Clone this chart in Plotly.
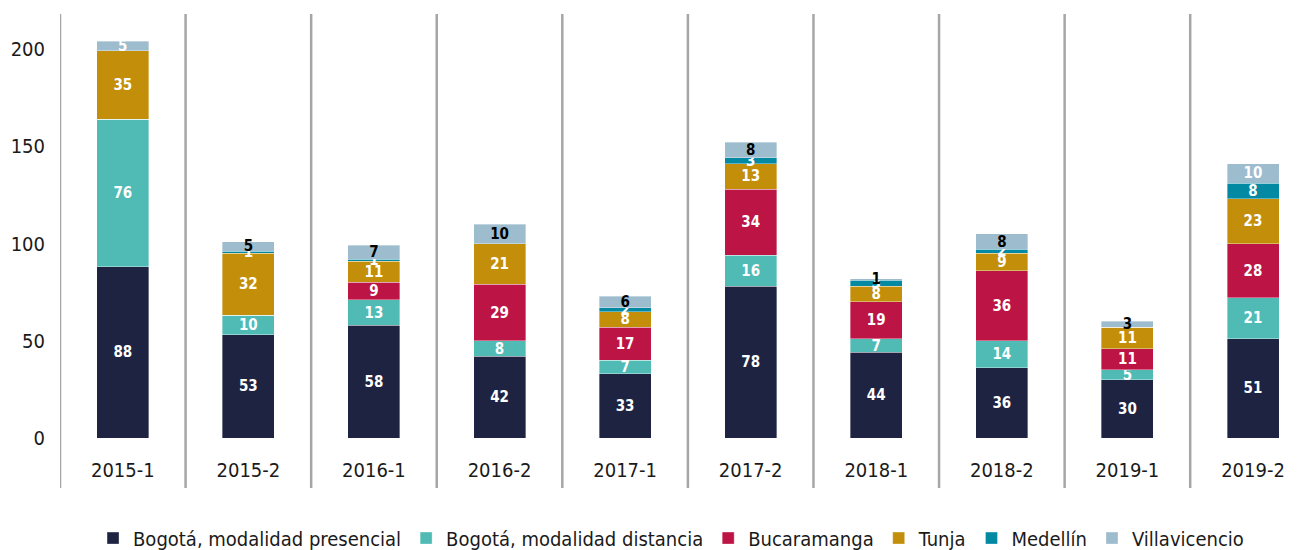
import plotly.graph_objects as go

categories = ["2015-1", "2015-2", "2016-1", "2016-2", "2017-1", "2017-2", "2018-1", "2018-2", "2019-1", "2019-2"]
bogota_presencial = [88, 53, 58, 42, 33, 78, 44, 36, 30, 51]
bogota_distancia = [76, 10, 13, 8, 7, 16, 7, 14, 5, 21]
bucaramanga = [0, 0, 9, 29, 17, 34, 19, 36, 11, 28]
tunja = [35, 32, 11, 21, 8, 13, 8, 9, 11, 23]
medellin = [0, 1, 1, 0, 2, 3, 3, 2, 0, 8]
villavicencio = [5, 5, 7, 10, 6, 8, 1, 8, 3, 10]

series = [
    ("Bogotá, modalidad presencial", bogota_presencial, "#1e2341"),
    ("Bogotá, modalidad distancia", bogota_distancia, "#50bab4"),
    ("Bucaramanga", bucaramanga, "#bc1545"),
    ("Tunja", tunja, "#c38f0a"),
    ("Medellín", medellin, "#0489a3"),
    ("Villavicencio", villavicencio, "#9dbccd"),
]

FONT = "DejaVu Sans Condensed, Roboto, sans-serif"

fig = go.Figure()
for name, vals, color in series:
    if name == "Villavicencio":
        tcolors = ["white" if i in (0, 9) else "black" for i in range(len(vals))]
    else:
        tcolors = ["white"] * len(vals)
    fig.add_trace(go.Bar(
        name=name, x=categories, y=vals,
        marker=dict(color=color, line=dict(color="rgba(255,255,255,0.6)", width=0.6)),
        text=["<b>%d</b>" % v if v > 0 else "" for v in vals],
        textposition="inside", insidetextanchor="middle", textangle=0,
        textfont=dict(color=tcolors, size=15, family=FONT),
        width=0.414,
    ))

# separators between categories
for k in range(len(categories)):
    fig.add_shape(type="line", xref="x", yref="paper",
                  x0=k - 0.5, x1=k - 0.5, y0=-0.118, y1=1,
                  line=dict(color="#a6a6a6", width=2.5))

fig.update_layout(
    barmode="stack",
    width=1299, height=542,
    margin=dict(l=52, r=0, t=6, b=112, autoexpand=False),
    plot_bgcolor="white", paper_bgcolor="white",
    font=dict(family=FONT, color="#1a1a1a"),
    uniformtext=dict(minsize=15, mode="show"),
    showlegend=True,
    legend=dict(orientation="h", x=0.49, xanchor="center", y=-0.236, yanchor="middle",
                font=dict(size=20, family=FONT),
                traceorder="normal"),
    xaxis=dict(type="category", range=[-0.5, 9.43], showgrid=False, showline=False, zeroline=False,
               tickfont=dict(size=20), ticks="outside", ticklen=14, tickcolor="rgba(0,0,0,0)"),
    yaxis=dict(range=[0, 218], tickvals=[0, 50, 100, 150, 200], showgrid=False,
               showline=False, zeroline=False, tickfont=dict(size=20),
               ticks="outside", ticklen=10, tickcolor="rgba(0,0,0,0)"),
)

fig.write_html("out.html")
